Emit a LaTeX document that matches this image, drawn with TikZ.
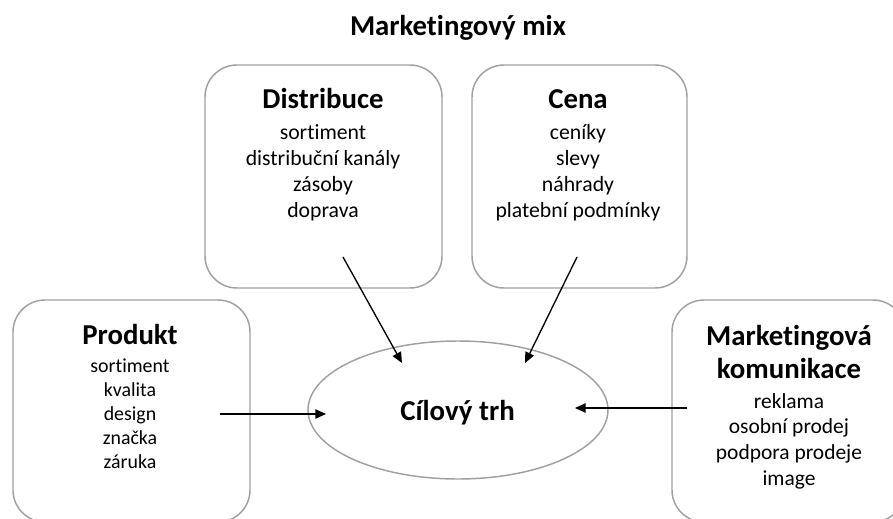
\documentclass[tikz,border=0pt]{standalone}
\usepackage{fontspec}
\setmainfont[Ligatures=NoCommon]{Carlito}
\usetikzlibrary{arrows.meta,shapes.geometric}
\definecolor{cbox}{RGB}{160,160,160}

\begin{document}
\begin{tikzpicture}[x=0.75pt,y=-0.75pt]

\clip (0,0) rectangle (893,518);

% boxes
\begin{scope}[every node/.style={draw=cbox,line width=1.1pt,rectangle,rounded corners=24pt,fill=none,inner sep=0pt}]
\node[minimum width=237*0.75pt,minimum height=223*0.75pt] (dist) at (323.5,176.5) {};
\node[minimum width=215*0.75pt,minimum height=223*0.75pt] (cena) at (579.5,176.5) {};
\node[minimum width=237*0.75pt,minimum height=222*0.75pt] (prod) at (131.5,411) {};
\node[minimum width=233*0.75pt,minimum height=222*0.75pt] (komu) at (788.5,411) {};
\end{scope}

\node[draw=cbox,line width=1.1pt,ellipse,minimum width=300*0.75pt,minimum height=138*0.75pt,inner sep=0pt] (trh) at (458,410) {};

% headings (base = last line)
\begin{scope}[every node/.style={anchor=base,inner sep=0pt,align=center,font=\fontsize{21.6}{24.75}\selectfont\bfseries}]
\node (title) at (458,35) {Marketingový mix};
\node (hdist) at (323,108) {Distribuce};
\node (hcena) at (578,108) {Cena};
\node (hprod) at (130,344) {Produkt};
\node (hkomu) at (789,378) {Marketingová\\komunikace};
\node (htrh) at (457.5,420) {Cílový trh};
\end{scope}

% items
\begin{scope}[every node/.style={anchor=base,inner sep=0pt,align=center,font=\fontsize{16.3}{19.5}\selectfont}]
\node (tdist) at (323,217) {sortiment\\distribuční kanály\\zásoby\\doprava};
\node (tcena) at (578,217) {ceníky\\slevy\\náhrady\\platební podmínky};
\node[font=\fontsize{14.9}{18}\selectfont] (tprod) at (130,468) {sortiment\\kvalita\\design\\značka\\záruka};
\node[font=\fontsize{16.1}{19.2}\selectfont] (tkomu) at (789,485) {reklama\\osobní prodej\\podpora prodeje\\image};
\end{scope}

\coordinate (d1) at (343,257);
\coordinate (d2) at (402,363);
\coordinate (c1) at (577,257);
\coordinate (c2) at (525,363);
\coordinate (p1) at (220,414);
\coordinate (p2) at (326,414);
\coordinate (k1) at (687,408);
\coordinate (k2) at (575,408);

\begin{scope}[line width=1pt,color=black,-{Triangle[length=8pt,width=7pt]}]
\draw (d1) to (d2);
\draw (c1) to (c2);
\draw (p1) to (p2);
\draw (k1) to (k2);
\end{scope}

\end{tikzpicture}
\end{document}
